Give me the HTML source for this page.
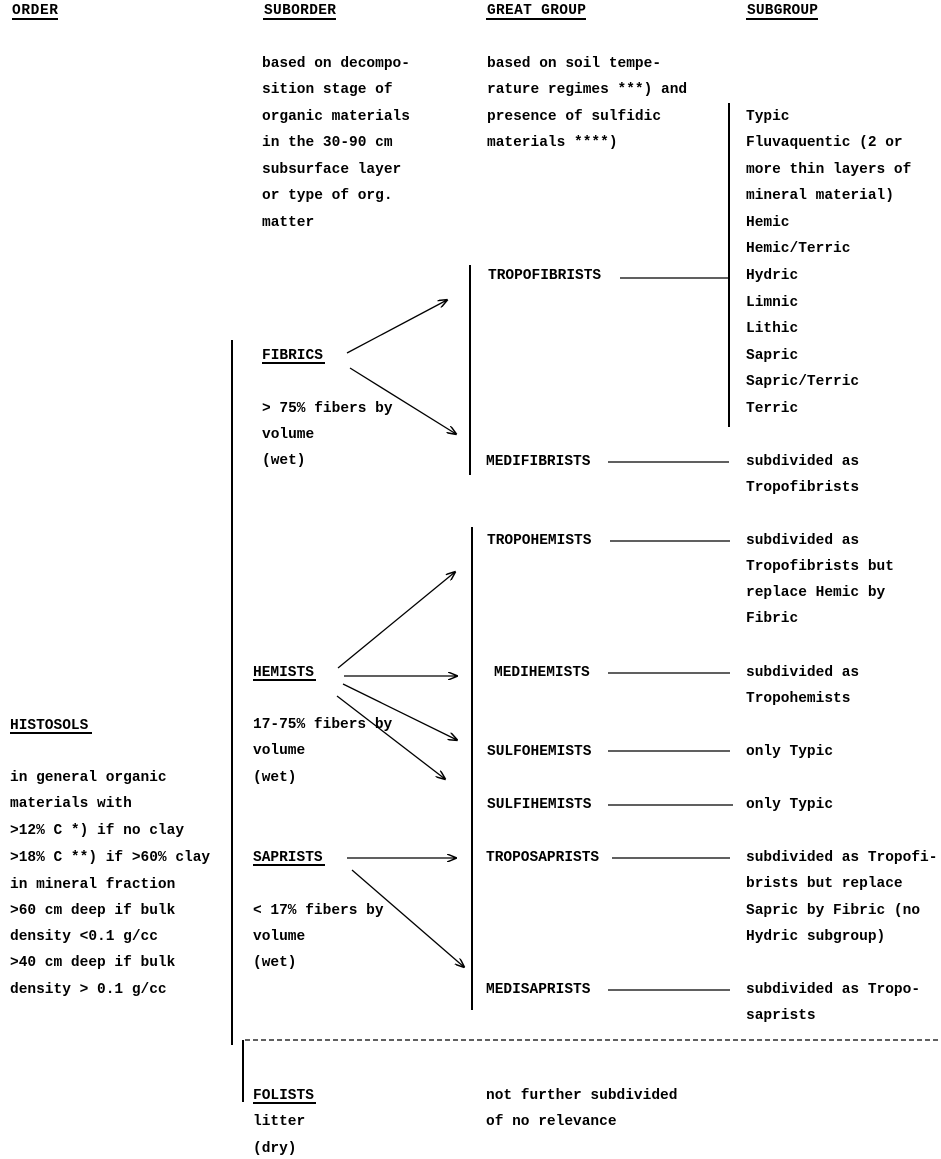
<!DOCTYPE html>
<html><head><meta charset="utf-8"><style>
html,body{margin:0;padding:0;background:#fff;}
svg{display:block}
text{font-family:"Liberation Mono",monospace;font-weight:bold;font-size:14.5px;fill:#000;}
</style></head><body>
<svg width="941" height="1159" viewBox="0 0 941 1159" xmlns="http://www.w3.org/2000/svg">
<defs><marker id="a" markerWidth="10" markerHeight="8" refX="9" refY="4" orient="auto" markerUnits="userSpaceOnUse"><path d="M0,0 L10,4 L0,8" fill="none" stroke="#000" stroke-width="1.5"/></marker></defs>
<g>
<text x="12" y="14" textLength="46">ORDER</text>
<text x="264" y="14" textLength="72">SUBORDER</text>
<text x="487" y="14" textLength="99">GREAT GROUP</text>
<text x="747" y="14" textLength="71">SUBGROUP</text>
</g>
<g stroke="#000" stroke-width="2" fill="none">
<line x1="12" y1="19" x2="58" y2="19"/><line x1="263" y1="19" x2="336" y2="19"/>
<line x1="486" y1="19" x2="586" y2="19"/><line x1="746" y1="19" x2="818" y2="19"/>
<line x1="262" y1="363" x2="325" y2="363"/><line x1="253" y1="680" x2="316" y2="680"/>
<line x1="10" y1="733" x2="92" y2="733"/><line x1="253" y1="865" x2="325" y2="865"/>
<line x1="253" y1="1103" x2="316" y2="1103"/>
<line x1="729" y1="103" x2="729" y2="427"/>
<line x1="470" y1="265" x2="470" y2="475"/>
<line x1="472" y1="527" x2="472" y2="1010"/>
<line x1="232" y1="340" x2="232" y2="1045"/>
<line x1="243" y1="1040" x2="243" y2="1102"/>
</g>
<g stroke="#000" stroke-width="1.3" fill="none">
<line x1="620" y1="278" x2="729" y2="278"/>
<line x1="608" y1="462" x2="729" y2="462"/>
<line x1="610" y1="541" x2="730" y2="541"/>
<line x1="608" y1="673" x2="730" y2="673"/>
<line x1="608" y1="751" x2="730" y2="751"/>
<line x1="608" y1="805" x2="733" y2="805"/>
<line x1="612" y1="858" x2="730" y2="858"/>
<line x1="608" y1="990" x2="730" y2="990"/>
<line x1="245" y1="1040" x2="941" y2="1040" stroke-dasharray="5,3"/>
<line x1="347" y1="353" x2="447" y2="300" marker-end="url(#a)"/>
<line x1="350" y1="368" x2="456" y2="434" marker-end="url(#a)"/>
<line x1="338" y1="668" x2="455" y2="572" marker-end="url(#a)"/>
<line x1="344" y1="676" x2="457" y2="676" marker-end="url(#a)"/>
<line x1="343" y1="684" x2="457" y2="740" marker-end="url(#a)"/>
<line x1="337" y1="696" x2="445" y2="779" marker-end="url(#a)"/>
<line x1="347" y1="858" x2="456" y2="858" marker-end="url(#a)"/>
<line x1="352" y1="870" x2="464" y2="967" marker-end="url(#a)"/>
</g>
<g>
<text x="262" y="67">based on decompo-</text>
<text x="262" y="93">sition stage of</text>
<text x="262" y="120">organic materials</text>
<text x="262" y="146">in the 30-90 cm</text>
<text x="262" y="173">subsurface layer</text>
<text x="262" y="199">or type of org.</text>
<text x="262" y="226">matter</text>
<text x="487" y="67">based on soil tempe-</text>
<text x="487" y="93">rature regimes ***) and</text>
<text x="487" y="120">presence of sulfidic</text>
<text x="487" y="146">materials ****)</text>
<text x="746" y="120">Typic</text>
<text x="746" y="146">Fluvaquentic (2 or</text>
<text x="746" y="173">more thin layers of</text>
<text x="746" y="199">mineral material)</text>
<text x="746" y="226">Hemic</text>
<text x="746" y="252">Hemic/Terric</text>
<text x="746" y="279">Hydric</text>
<text x="746" y="306">Limnic</text>
<text x="746" y="332">Lithic</text>
<text x="746" y="359">Sapric</text>
<text x="746" y="385">Sapric/Terric</text>
<text x="746" y="412">Terric</text>
<text x="488" y="279">TROPOFIBRISTS</text>
<text x="262" y="359">FIBRICS</text>
<text x="262" y="412">&gt; 75% fibers by</text>
<text x="262" y="438">volume</text>
<text x="262" y="464">(wet)</text>
<text x="486" y="465">MEDIFIBRISTS</text>
<text x="746" y="465">subdivided as</text>
<text x="746" y="491">Tropofibrists</text>
<text x="487" y="544">TROPOHEMISTS</text>
<text x="746" y="544">subdivided as</text>
<text x="746" y="570">Tropofibrists but</text>
<text x="746" y="596">replace Hemic by</text>
<text x="746" y="622">Fibric</text>
<text x="253" y="676">HEMISTS</text>
<text x="494" y="676">MEDIHEMISTS</text>
<text x="746" y="676">subdivided as</text>
<text x="746" y="702">Tropohemists</text>
<text x="10" y="729">HISTOSOLS</text>
<text x="253" y="728">17-75% fibers by</text>
<text x="253" y="754">volume</text>
<text x="253" y="781">(wet)</text>
<text x="487" y="755">SULFOHEMISTS</text>
<text x="746" y="755">only Typic</text>
<text x="10" y="781">in general organic</text>
<text x="10" y="807">materials with</text>
<text x="487" y="808">SULFIHEMISTS</text>
<text x="746" y="808">only Typic</text>
<text x="10" y="834">&gt;12% C *) if no clay</text>
<text x="10" y="861">&gt;18% C **) if &gt;60% clay</text>
<text x="253" y="861">SAPRISTS</text>
<text x="486" y="861">TROPOSAPRISTS</text>
<text x="746" y="861">subdivided as Tropofi-</text>
<text x="746" y="887">brists but replace</text>
<text x="746" y="914">Sapric by Fibric (no</text>
<text x="746" y="940">Hydric subgroup)</text>
<text x="10" y="888">in mineral fraction</text>
<text x="10" y="914">&gt;60 cm deep if bulk</text>
<text x="10" y="940">density &lt;0.1 g/cc</text>
<text x="10" y="966">&gt;40 cm deep if bulk</text>
<text x="10" y="993">density &gt; 0.1 g/cc</text>
<text x="253" y="914">&lt; 17% fibers by</text>
<text x="253" y="940">volume</text>
<text x="253" y="966">(wet)</text>
<text x="486" y="993">MEDISAPRISTS</text>
<text x="746" y="993">subdivided as Tropo-</text>
<text x="746" y="1019">saprists</text>
<text x="253" y="1099">FOLISTS</text>
<text x="253" y="1125">litter</text>
<text x="253" y="1152">(dry)</text>
<text x="486" y="1099">not further subdivided</text>
<text x="486" y="1125">of no relevance</text>
</g>
</svg>
</body></html>
